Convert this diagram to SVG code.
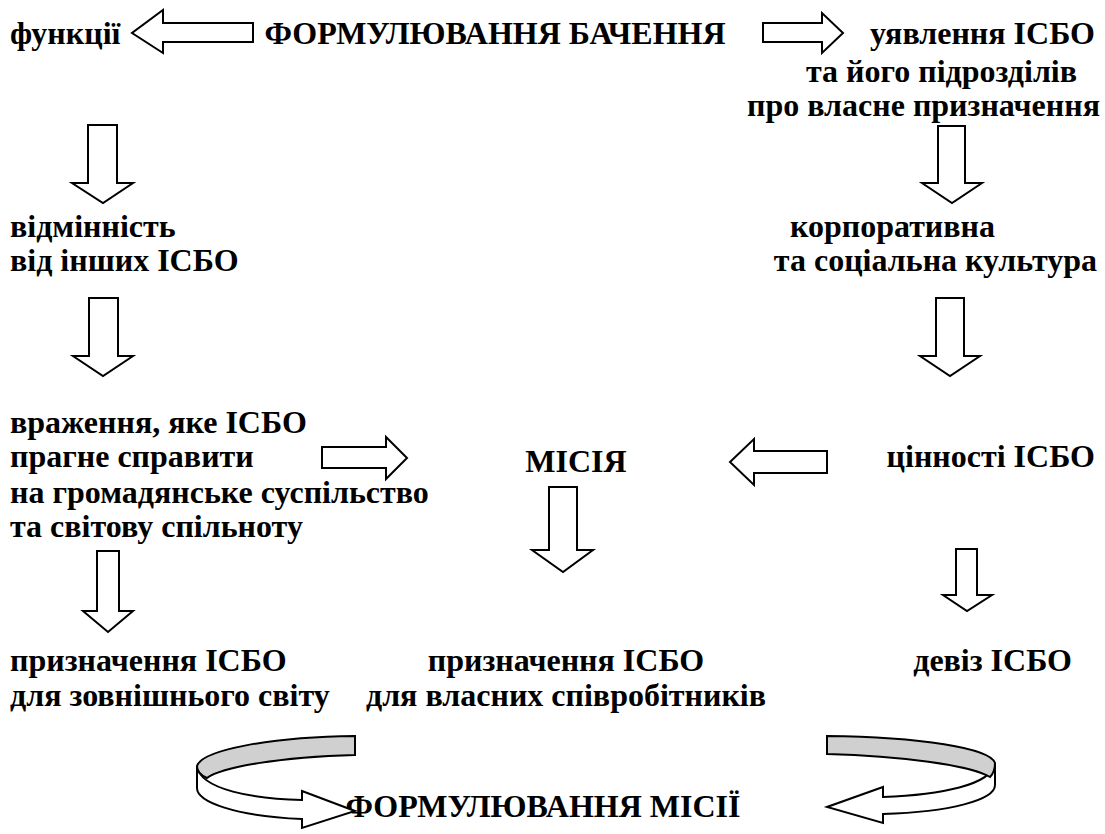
<svg xmlns="http://www.w3.org/2000/svg" width="1105" height="834" viewBox="0 0 1105 834">
<rect width="1105" height="834" fill="#fff"/>
<g id="n-functions"><text x="10" y="44" style="font-family:'Liberation Serif','Times New Roman',serif;font-weight:bold;font-size:32px">функції</text></g>
<g id="n-vision"><text x="495" y="44" text-anchor="middle" style="font-family:'Liberation Serif','Times New Roman',serif;font-weight:bold;font-size:32px">ФОРМУЛЮВАННЯ БАЧЕННЯ</text></g>
<g id="n-idea"><text x="1095" y="44" text-anchor="end" style="font-family:'Liberation Serif','Times New Roman',serif;font-weight:bold;font-size:32px">уявлення ІСБО</text><text x="1077" y="82" text-anchor="end" style="font-family:'Liberation Serif','Times New Roman',serif;font-weight:bold;font-size:32px">та його підрозділів</text><text x="1100" y="116" text-anchor="end" style="font-family:'Liberation Serif','Times New Roman',serif;font-weight:bold;font-size:32px">про власне призначення</text></g>
<g id="n-diff"><text x="10" y="237" style="font-family:'Liberation Serif','Times New Roman',serif;font-weight:bold;font-size:32px">відмінність</text><text x="10" y="271" style="font-family:'Liberation Serif','Times New Roman',serif;font-weight:bold;font-size:32px">від інших ІСБО</text></g>
<g id="n-culture"><text x="995" y="237" text-anchor="end" style="font-family:'Liberation Serif','Times New Roman',serif;font-weight:bold;font-size:32px">корпоративна</text><text x="1097" y="271" text-anchor="end" style="font-family:'Liberation Serif','Times New Roman',serif;font-weight:bold;font-size:32px">та соціальна культура</text></g>
<g id="n-impression"><text x="10" y="433" style="font-family:'Liberation Serif','Times New Roman',serif;font-weight:bold;font-size:32px">враження, яке ІСБО</text><text x="10" y="467" style="font-family:'Liberation Serif','Times New Roman',serif;font-weight:bold;font-size:32px">прагне справити</text><text x="10" y="503" style="font-family:'Liberation Serif','Times New Roman',serif;font-weight:bold;font-size:32px">на громадянське суспільство</text><text x="10" y="537" style="font-family:'Liberation Serif','Times New Roman',serif;font-weight:bold;font-size:32px">та світову спільноту</text></g>
<g id="n-mission"><text x="576" y="472" text-anchor="middle" style="font-family:'Liberation Serif','Times New Roman',serif;font-weight:bold;font-size:32px">МІСІЯ</text></g>
<g id="n-values"><text x="1095" y="467" text-anchor="end" style="font-family:'Liberation Serif','Times New Roman',serif;font-weight:bold;font-size:32px">цінності ІСБО</text></g>
<g id="n-purpose-ext"><text x="10" y="671" style="font-family:'Liberation Serif','Times New Roman',serif;font-weight:bold;font-size:32px">призначення ІСБО</text><text x="10" y="706" style="font-family:'Liberation Serif','Times New Roman',serif;font-weight:bold;font-size:32px">для зовнішнього світу</text></g>
<g id="n-purpose-int"><text x="566" y="671" text-anchor="middle" style="font-family:'Liberation Serif','Times New Roman',serif;font-weight:bold;font-size:32px">призначення ІСБО</text><text x="566" y="706" text-anchor="middle" style="font-family:'Liberation Serif','Times New Roman',serif;font-weight:bold;font-size:32px">для власних співробітників</text></g>
<g id="n-motto"><text x="1072" y="671" text-anchor="end" style="font-family:'Liberation Serif','Times New Roman',serif;font-weight:bold;font-size:32px">девіз ІСБО</text></g>
<g id="n-mission-form"><text x="543" y="817" text-anchor="middle" style="font-family:'Liberation Serif','Times New Roman',serif;font-weight:bold;font-size:32px">ФОРМУЛЮВАННЯ МІСІЇ</text></g>
<g id="connectors" fill="#fff" stroke="#000" stroke-width="2">
<path d="M253,23 L163,23 L163,10 L132,33 L163,53 L163,42 L253,42 Z"/>
<path d="M763,23 L822,23 L822,13 L843,33 L822,53 L822,42 L763,42 Z"/>
<path d="M88,125 L117,125 L117,183 L133,183 L103,203 L72,183 L88,183 Z"/>
<path d="M938,126 L965,126 L965,183 L982,183 L952,203 L922,183 L938,183 Z"/>
<path d="M89,298 L118,298 L118,356 L133,356 L103,376 L73,356 L89,356 Z"/>
<path d="M936,298 L964,298 L964,356 L980,356 L950,376 L920,356 L936,356 Z"/>
<path d="M322,447 L386,447 L386,437 L407,458 L386,479 L386,468 L322,468 Z"/>
<path d="M827,451 L754,451 L754,439 L730,462 L754,485 L754,473 L827,473 Z"/>
<path d="M549,487 L577,487 L577,550 L593,550 L563,572 L532,550 L549,550 Z"/>
<path d="M956,549 L977,549 L977,595 L992,595 L967,611 L943,595 L956,595 Z"/>
<path d="M97,551 L119,551 L119,611 L133,611 L108,632 L83,611 L97,611 Z"/>
<path d="M197,766 C200,790 255,799 302,800 L302,791 L355,811 L302,828 L302,819 C235,816 197,802 197,788 Z"/>
<path fill="#d0d0d0" d="M355,736 L355,755 C280,757 222,767 207,778 C200,775 197,771 197,766 C202,750 270,737 355,736 Z"/>
<path d="M995,763 C992,785 940,795 883,797 L883,787 L827,807 L883,823 L883,814 C950,812 995,800 995,785 Z"/>
<path fill="#d0d0d0" d="M827,736 L827,754 C900,756 970,765 990,777 C993,774 995,770 995,763 C990,748 920,737 827,736 Z"/>
</g>
</svg>
